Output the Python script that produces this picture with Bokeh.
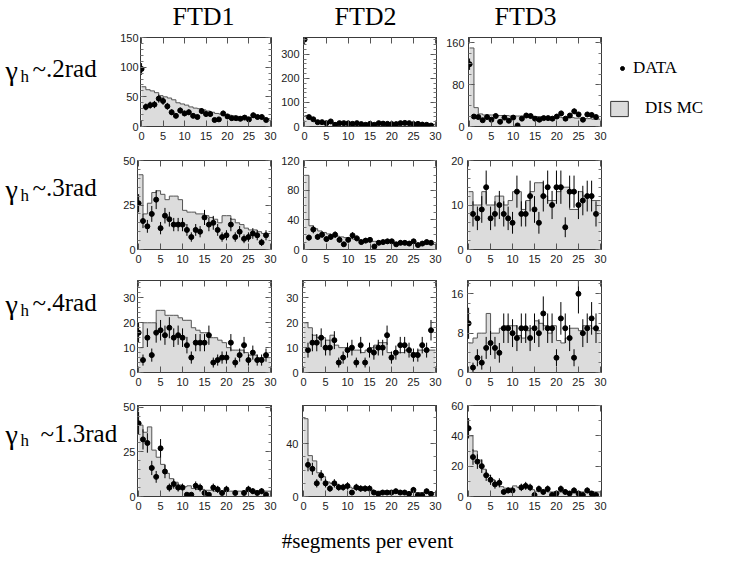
import numpy as np
from bokeh.plotting import figure
from bokeh.layouts import row, column
from bokeh.models import Range1d, FixedTicker, LinearAxis, Legend, LegendItem
from bokeh.core.properties import value
from bokeh.embed import file_html
from bokeh.resources import INLINE

nan = float("nan")

# segments per event: bin lower edges and bin edges
n_seg = list(range(30))
bin_edges = list(range(31))

col_titles = ["FTD1", "FTD2", "FTD3"]
row_angles = ["~.2rad", "~.3rad", "~.4rad", "~1.3rad"]
x_title = "#segments per event"
x_ticks = [0, 5, 10, 15, 20, 25, 30]

# gamma_h ~ .2 rad
ftd1_g02_data = [97, 33, 36, 37, 47, 43, 34, 24, 18, 27, 22, 24, 18, 16, 26, 21, 21, 11, 12, 22, 17, 14, 14, 13, 15, 12, 19, 16, 16, 11]
ftd1_g02_mc = [67, 62, 60, 57, 52, 50, 48, 45, 40, 38, 36, 33, 31, 30, 28, 26, 24, 22, 21, 20, 19, 18, 17, 16, 16, 15, 15, 14, 14, 13]
ftd2_g02_data = [362, 39, 30, 18, 18, 14, 21, 7, 14, 14, 13, 11, 14, 10, 7, 11, 7, 14, 12, 11, 10, 10, 14, 15, 14, 10, 11, 8, 7, 4]
ftd2_g02_mc = [45, 30, 24, 21, 19, 17, 16, 15, 14, 14, 13, 13, 12, 12, 12, 11, 11, 11, 11, 11, 10, 10, 10, 10, 10, 10, 9, 9, 9, 9]
ftd3_g02_data = [119, 19, 18, 12, 18, 13, 20, 9, 17, 11, 17, 2, 15, 21, 20, 15, 13, 16, 16, 15, 19, 25, 15, 21, 29, 23, 13, 23, 22, 18]
ftd3_g02_mc = [150, 36, 24, 22, 22, 22, 21, 21, 21, 20, 20, 20, 20, 19, 19, 19, 19, 18, 18, 18, 18, 17, 17, 17, 16, 16, 15, 15, 14, 14]

# gamma_h ~ .3 rad
ftd1_g03_data = [26, 16, 13, 20, 28, 12, 19, 17, 14, 14, 14, 11, 7, 11, 10, 18, 14, 15, 11, 7, 8, 14, 7, 10, 6, 7, 9, 8, 4, 8]
ftd1_g03_mc = [42, 20, 26, 32, 33, 31, 28, 30, 30, 28, 22, 21, 21, 20, 20, 19, 18, 17, 15, 19, 19, 17, 15, 14, 12, 11, 11, 10, 9, 9]
ftd2_g03_data = [nan, 16, 27, 17, 20, 14, 17, 20, 13, 7, 13, 19, 15, 10, 12, 13, 4, 9, 10, 11, 11, 7, 9, 9, 8, 11, 6, 8, 10, 9]
ftd2_g03_mc = [100, 32, 28, 25, 23, 21, 20, 18, 17, 16, 15, 14, 13, 12, 12, 11, 11, 10, 10, 10, 9, 9, 9, 8, 8, 8, 8, 7, 7, 7]
ftd3_g03_data = [nan, 8, 7, 9, 14, 7, 8, 10, 8, 7, 6, 13, 8, 8, 12, 9, 6, 12, 14, 10, 14, 14, 5, 13, 13, 10, 11, 12, 12, 8]
ftd3_g03_mc = [13, 10, 10, 13, 10, 10, 12, 12, 10, 11, 13, 13, 9, 11, 13, 15, 15, 12, 11, 11, 13, 14, 14, 9, 9, 13, 12, 12, 11, 11]

# gamma_h ~ .4 rad
ftd1_g04_data = [16, 5, 14, 7, 16, 17, 15, 18, 14, 15, 14, 11, 6, 12, 12, 12, 15, 4, 5, 6, 6, 12, 4, 7, 11, 5, 8, 5, 5, 7]
ftd1_g04_mc = [10, 20, 20, 20, 25, 25, 23, 23, 23, 22, 21, 21, 18, 17, 16, 16, 14, 14, 13, 12, 10, 9, 9, 9, 8, 7, 7, 6, 6, 6]
ftd2_g04_data = [nan, 9, 12, 12, 14, 10, 10, 13, 4, 6, 9, 10, 4, 11, 4, 9, 8, 10, 10, 15, 6, 8, 11, 11, 9, 7, 7, 11, 9, 17]
ftd2_g04_mc = [20, 18, 15, 14, 14, 13, 15, 11, 10, 10, 9, 9, 9, 8, 9, 10, 11, 12, 12, 8, 7, 8, 8, 9, 8, 8, 9, 9, 9, 9]
ftd3_g04_data = [10, 1, 3, 2, 5, 6, 5, 4, 9, 9, 8, 7, 9, 9, 7, 9, 8, 12, 9, 9, 3, 11, 9, 7, 3, 16, 8, 9, 11, 9]
ftd3_g04_mc = [6, 7, 8, 8, 12, 8, 8, 9, 9.5, 9.5, 9.5, 7.5, 7, 8.5, 9, 10.5, 10, 9.5, 8, 9.5, 6.5, 6, 7, 9, 9, 8.5, 9.5, 9.5, 9, 8.5]

# gamma_h ~ 1.3 rad
ftd1_g13_data = [41, 32, 30, 16, 11, 27, 14, 5, 7, 5, 5, 1, 1, 6, 5, 2, 1, 5, 4, 2, 4, nan, 2, nan, 2, 4, 3, 2, 3, 1]
ftd1_g13_mc = [40, 36, 39, 26, 22, 18, 13, 10, 8, 6.5, 5.5, 6, 4.5, 4, 4, 3.5, 3.5, 3, 3, 3, 3, 3, 3, 3, 3, 3, 3, 3, 3, 3]
ftd2_g13_data = [nan, 24, 21, 10, 16, 10, 6, 10, 7, 7, 8, 3, 7, 6, 6, 6, 3, 2, 3, 3, 3, 4, 3, 3, 2, 5, 1, 1, 4, 2]
ftd2_g13_mc = [59, 31, 27, 18, 15, 11, 10, 9, 8, 7, 7, 6, 6, 5, 5, 5, 4, 4, 4, 4, 4, 3, 3, 3, 3, 3, 3, 3, 3, 3]
ftd3_g13_data = [45, 26, 23, 20, 14, 11, 8, 9, 3, 4, 4, nan, 6, 7, 6, 1, 5, 3, 5, 1, 2, 5, 3, 2, 4, 2, 1, 4, 2, 1]
ftd3_g13_mc = [40, 30, 24, 18, 14, 11, 9, 6.5, 5.5, 5.5, 7, 6, 6, 6, 4.5, 3.5, 3.5, 3.5, 3, 3, 3, 3, 3, 3, 3, 3, 3, 3, 3, 3]

# y axis limits and ticks per panel (rows: gamma_h bins, columns: FTD1..3)
y_top = [[150, 370, 170], [50, 120, 20], [37, 37, 18.7], [51, 69, 60]]
y_major = [
    [[0, 50, 100, 150], [0, 100, 200, 300], [0, 80, 160]],
    [[0, 25, 50], [0, 40, 80, 120], [0, 10, 20]],
    [[0, 10, 20, 30], [0, 10, 20, 30], [0, 8, 16]],
    [[0, 25, 50], [0, 40], [0, 20, 40, 60]],
]
y_minor_step = [[10, 20, 20], [5, 10, 2], [2, 2, 2], [5, 10, 10]]

panel_data = [
    [(ftd1_g02_data, ftd1_g02_mc), (ftd2_g02_data, ftd2_g02_mc), (ftd3_g02_data, ftd3_g02_mc)],
    [(ftd1_g03_data, ftd1_g03_mc), (ftd2_g03_data, ftd2_g03_mc), (ftd3_g03_data, ftd3_g03_mc)],
    [(ftd1_g04_data, ftd1_g04_mc), (ftd2_g04_data, ftd2_g04_mc), (ftd3_g04_data, ftd3_g04_mc)],
    [(ftd1_g13_data, ftd1_g13_mc), (ftd2_g13_data, ftd2_g13_mc), (ftd3_g13_data, ftd3_g13_mc)],
]

SERIF = "Liberation Serif"
SANS = "Liberation Sans"
MC_FILL = "#dcdcdc"
MC_LINE = "#555555"
FRAME = "#3a3a3a"

# page geometry (pixels)
LABEL_W = 117
RIGHT_W = 125
HEADER_H = 31
FOOTER_H = 43
row_top = [6, 12, 9, 11]
row_frame = [89, 89, 92, 91]
row_bottom = [22, 22, 22, 22]


def blank_fig(w, h):
    p = figure(width=w, height=h, x_range=Range1d(0, w), y_range=Range1d(h, 0),
               output_backend="svg", toolbar_location=None,
               x_axis_location=None, y_axis_location=None, min_border=0,
               outline_line_color=None)
    p.grid.visible = False
    return p


def style_axis(ax, labels, standoff):
    ax.axis_line_color = FRAME
    ax.major_tick_in = 6
    ax.major_tick_out = 0
    ax.minor_tick_in = 3
    ax.minor_tick_out = 0
    ax.major_tick_line_color = "#555555"
    ax.minor_tick_line_color = "#777777"
    ax.major_label_text_font = SANS
    if labels:
        ax.major_label_text_color = "#222222"
        ax.major_label_text_font_size = "11px"
        ax.major_label_standoff = standoff
    else:
        # tick marks only on the top and right edges
        ax.major_label_text_color = None
        ax.major_label_text_alpha = 0
        ax.major_label_text_font_size = "1px"
        ax.major_label_standoff = 0


def panel(i, j):
    data, mc = panel_data[i][j]
    left = 20 if j == 0 else 24
    width = 161 if j == 0 else 165
    h = row_top[i] + row_frame[i] + row_bottom[i]
    p = figure(width=width, height=h,
               x_range=Range1d(-0.25, 30.25), y_range=Range1d(0, y_top[i][j]),
               output_backend="svg", toolbar_location=None,
               x_axis_location=None, y_axis_location=None,
               min_border_left=left, min_border_right=7,
               min_border_top=row_top[i], min_border_bottom=row_bottom[i],
               outline_line_color=FRAME)
    p.grid.visible = False

    # DIS MC histogram
    mc_closed = list(mc) + [mc[-1]]
    p.varea_step(x=bin_edges, y1=0, y2=mc_closed, step_mode="after", fill_color=MC_FILL)
    p.step(x=bin_edges, y=mc_closed, mode="after", line_color=MC_LINE, line_width=1)

    # DATA with Poisson errors
    d = np.array(data, dtype=float)
    err = np.sqrt(d)
    p.segment(x0=n_seg, y0=d - err, x1=n_seg, y1=d + err,
              line_color="black", line_width=1)
    p.scatter(x=n_seg, y=d, size=5, color="black")

    minor = list(np.arange(0, y_top[i][j] + 1e-9, y_minor_step[i][j]))
    for loc in ("below", "above"):
        ax = LinearAxis(ticker=FixedTicker(ticks=x_ticks, minor_ticks=[]))
        style_axis(ax, loc == "below", 5)
        p.add_layout(ax, loc)
    for loc in ("left", "right"):
        ax = LinearAxis(ticker=FixedTicker(ticks=y_major[i][j], minor_ticks=minor))
        style_axis(ax, loc == "left", 2 if j == 0 else 4)
        p.add_layout(ax, loc)
    return p


# column titles
header = blank_fig(733, HEADER_H)
title_x = [203, 365, 525]
header.text(x=title_x, y=[16, 16, 16], text=col_titles,
            text_font=value(SERIF), text_font_size="26px",
            text_align="center", text_baseline="middle", text_color="black")

# x axis title
footer = blank_fig(733, FOOTER_H)
footer.text(x=[367], y=[22], text=[x_title], text_font=value(SERIF),
            text_font_size="21px", text_align="center",
            text_baseline="middle", text_color="black")

# vertical middle of each row label inside its row strip
label_mid = [41, 38, 30, 38]
label_x = [32, 32, 32, 40]

rows = []
for i in range(4):
    h = row_top[i] + row_frame[i] + row_bottom[i]
    lab = blank_fig(LABEL_W, h)
    m = label_mid[i]
    lab.text(x=[5], y=[m + 2], text=["γ"], text_font=value(SERIF),
             text_font_size="28px", text_baseline="middle", text_color="black")
    lab.text(x=[20], y=[m + 10], text=["h"], text_font=value(SERIF),
             text_font_size="17px", text_baseline="middle", text_color="black")
    lab.text(x=[label_x[i]], y=[m], text=[row_angles[i]], text_font=value(SERIF),
             text_font_size="25px", text_baseline="middle", text_color="black")

    right = blank_fig(RIGHT_W, h)
    if i == 0:
        r_dot = right.scatter(x=[nan], y=[nan], size=6, color="black")
        r_box = right.quad(left=[nan], right=[nan], top=[nan], bottom=[nan],
                           fill_color=MC_FILL, line_color="#333333")
        for item, loc, gw, gh, so in (
            (LegendItem(label="DATA", renderers=[r_dot]), (9, 48), 10, 20, 6),
            (LegendItem(label="DIS MC", renderers=[r_box]), (0, 8), 22, 19, 15),
        ):
            leg = Legend(items=[item], location=loc, glyph_width=gw, glyph_height=gh,
                         label_standoff=so, label_height=gh, padding=0, margin=0,
                         spacing=0, border_line_color=None, background_fill_alpha=0,
                         label_text_font=SERIF, label_text_font_size="17px",
                         label_text_color="black")
            right.add_layout(leg)

    rows.append(row(lab, panel(i, 0), panel(i, 1), panel(i, 2), right))

page = column(header, *rows, footer)

open("out.html", "w").write(file_html(page, INLINE, title="FTD segments per event"))
